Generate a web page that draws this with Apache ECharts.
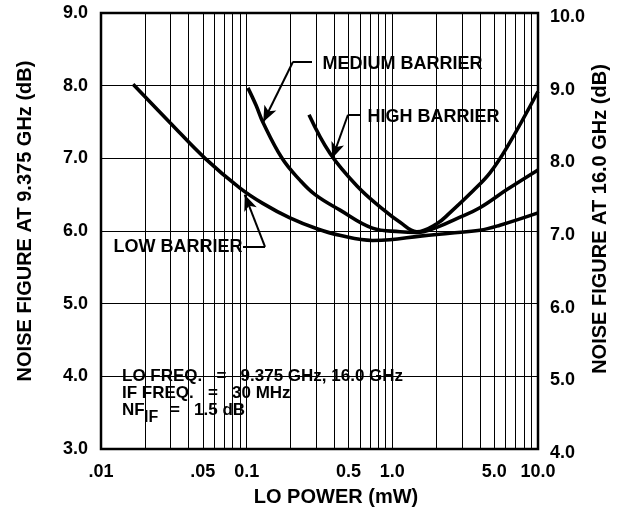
<!DOCTYPE html>
<html><head><meta charset="utf-8">
<script src="https://cdn.jsdelivr.net/npm/echarts@6/dist/echarts.min.js"></script>
<style>html,body{margin:0;padding:0;background:#fff}#c{width:625px;height:512px}</style>
</head><body><div id="c"></div>
<script>
// ---- data ----
const lowX  = [0.0166, 0.0298, 0.0518, 0.09, 0.129, 0.198, 0.304, 0.435, 0.73, 0.96, 1.55, 2.48, 3.99, 5.48, 10];
const lowY  = [8.02, 7.49, 7.0, 6.59, 6.38, 6.18, 6.03, 5.94, 5.87, 5.88, 5.93, 5.97, 6.01, 6.08, 6.25];
const medX  = [0.102, 0.116, 0.129, 0.175, 0.232, 0.295, 0.435, 0.73, 1.13, 1.47, 2.02, 2.77, 3.99, 6.12, 10];
const medY  = [7.97, 7.73, 7.50, 7.0, 6.70, 6.50, 6.29, 6.04, 5.99, 5.98, 6.05, 6.17, 6.32, 6.57, 6.84];
const highX = [0.268, 0.373, 0.572, 0.86, 1.13, 1.47, 2.02, 2.48, 3.57, 4.68, 6.12, 10];
const highY = [7.60, 7.07, 6.62, 6.30, 6.12, 5.99, 6.10, 6.25, 6.55, 6.80, 7.15, 7.92];

const xTickValues = [0.01, 0.05, 0.1, 0.5, 1, 5, 10];
const xTickLabels = ['.01', '.05', '0.1', '0.5', '1.0', '5.0', '10.0'];
const xGridValues = [0.02,0.03,0.04,0.05,0.06,0.07,0.08,0.09,0.1,0.2,0.3,0.4,0.5,0.6,0.7,0.8,0.9,1,2,3,4,5,6,7,8,9];
const leftMin = 3, leftMax = 9, rightMin = 4, rightMax = 10;

const seriesNames = ['LOW BARRIER', 'MEDIUM BARRIER', 'HIGH BARRIER'];
// label anchor [x, y] (left edge, vertical centre) in data units
const labelAnchors = [[0.0121, 5.78], [0.329, 8.30], [0.67, 7.57]];
// leader lines: [from, to, arrowAtEnd]
const leaders = [
  [[0.0944, 5.78], [0.1337, 5.78], false],
  [[0.1337, 5.78], [0.097, 6.50], true],
  [[0.208, 8.33], [0.281, 8.33], false],
  [[0.208, 8.33], [0.130, 7.50], true],
  [[0.496, 7.60], [0.60, 7.60], false],
  [[0.496, 7.60], [0.387, 7.00], true]
];
const noteLines = ['LO FREQ.   =   9.375 GHz, 16.0 GHz', 'IF FREQ.   =   30 MHz'];
const noteNF = ['NF', 'IF', '=   1.5 dB'];
const titles = {left: 'NOISE FIGURE AT 9.375 GHz (dB)', right: 'NOISE FIGURE AT 16.0 GHz (dB)', x: 'LO POWER (mW)'};

// ---- chart ----
const FONT = '"Liberation Sans", Arial, Helvetica, sans-serif';
const zip = (xs, ys) => xs.map((x, i) => [x, ys[i]]);
const chart = echarts.init(document.getElementById('c'), null, {renderer: 'canvas'});
const curve = (name, xs, ys) => ({
  name, type: 'line', xAxisIndex: 0, yAxisIndex: 0, data: zip(xs, ys),
  showSymbol: false, smooth: 0.4, silent: true,
  lineStyle: {color: '#000', width: 3.6}, z: 5
});
const labelFor = v => {
  for (let i = 0; i < xTickValues.length; i++) {
    if (Math.abs(Math.log10(v) - Math.log10(xTickValues[i])) < 1e-4) return xTickLabels[i];
  }
  return '';
};
const txt = {fontFamily: FONT, fontWeight: 'bold', color: '#000'};

chart.setOption({
  animation: false,
  backgroundColor: '#fff',
  grid: {left: 101, right: 87, top: 13, bottom: 63, show: true, borderColor: '#000', borderWidth: 2.5, backgroundColor: 'transparent'},
  xAxis: {
    type: 'log', logBase: 10, min: 0.01, max: 10,
    axisLine: {show: false}, axisTick: {show: false}, splitLine: {show: false},
    axisLabel: Object.assign({customValues: xTickValues, formatter: labelFor, fontSize: 18, margin: 14}, txt)
  },
  yAxis: [
    {type: 'value', position: 'left', min: leftMin, max: leftMax, interval: 1,
     axisLine: {show: false}, axisTick: {show: false},
     splitLine: {show: true, lineStyle: {color: '#000', width: 1}},
     axisLabel: Object.assign({formatter: v => v.toFixed(1), fontSize: 18, margin: 13}, txt)},
    {type: 'value', position: 'right', min: rightMin, max: rightMax, interval: 1,
     axisLine: {show: false}, axisTick: {show: false}, splitLine: {show: false},
     axisLabel: Object.assign({formatter: v => v.toFixed(1), fontSize: 18, margin: 12, verticalAlign: 'top', lineHeight: 8}, txt)}
  ],
  series: [
    {
      name: 'grid', type: 'line', data: [], silent: true, z: 1,
      markLine: {silent: true, symbol: 'none', label: {show: false}, animation: false,
        lineStyle: {color: '#000', width: 1, type: 'solid'},
        data: xGridValues.map(v => ({xAxis: v}))}
    },
    curve(seriesNames[1], medX, medY),
    curve(seriesNames[2], highX, highY),
    curve(seriesNames[0], lowX, lowY),
    {
      name: 'notes', type: 'line', data: [], silent: true, z: 6,
      markLine: {silent: true, animation: false, label: {show: false},
        lineStyle: {color: '#000', width: 2, type: 'solid'},
        data: leaders.map(l => [
          {coord: l[0], symbol: 'none'},
          {coord: l[1], symbol: l[2] ? 'arrow' : 'none', symbolSize: [10, 16]}
        ])},
      markPoint: {silent: true, animation: false, symbol: 'rect', symbolSize: 1,
        itemStyle: {color: 'transparent'},
        label: Object.assign({show: true, position: 'right', distance: 0, fontSize: 18, formatter: p => p.name}, txt),
        data: labelAnchors.map((c, i) => ({coord: c, name: seriesNames[i]}))}
    }
  ],
  graphic: [
    {type: 'text', x: 25, y: 221, rotation: Math.PI / 2, silent: true,
     style: {text: titles.left, font: 'bold 20px ' + FONT, fill: '#000', align: 'center', verticalAlign: 'middle'}},
    {type: 'text', x: 600, y: 219, rotation: Math.PI / 2, silent: true,
     style: {text: titles.right, font: 'bold 20px ' + FONT, fill: '#000', align: 'center', verticalAlign: 'middle'}},
    {type: 'text', x: 336, y: 497, silent: true,
     style: {text: titles.x, font: 'bold 20px ' + FONT, fill: '#000', align: 'center', verticalAlign: 'middle'}},
    {type: 'text', x: 122, y: 376, silent: true, z: 10,
     style: {text: noteLines[0], font: 'bold 17px ' + FONT, fill: '#000', align: 'left', verticalAlign: 'middle'}},
    {type: 'text', x: 122, y: 393, silent: true, z: 10,
     style: {text: noteLines[1], font: 'bold 17px ' + FONT, fill: '#000', align: 'left', verticalAlign: 'middle'}},
    {type: 'text', x: 122, y: 410, silent: true, z: 10,
     style: {text: noteNF[0], font: 'bold 17px ' + FONT, fill: '#000', align: 'left', verticalAlign: 'middle'}},
    {type: 'text', x: 144, y: 418, silent: true, z: 10,
     style: {text: noteNF[1], font: 'bold 16px ' + FONT, fill: '#000', align: 'left', verticalAlign: 'middle'}},
    {type: 'text', x: 170, y: 410, silent: true, z: 10,
     style: {text: noteNF[2], font: 'bold 17px ' + FONT, fill: '#000', align: 'left', verticalAlign: 'middle'}}
  ]
});
</script></body></html>
